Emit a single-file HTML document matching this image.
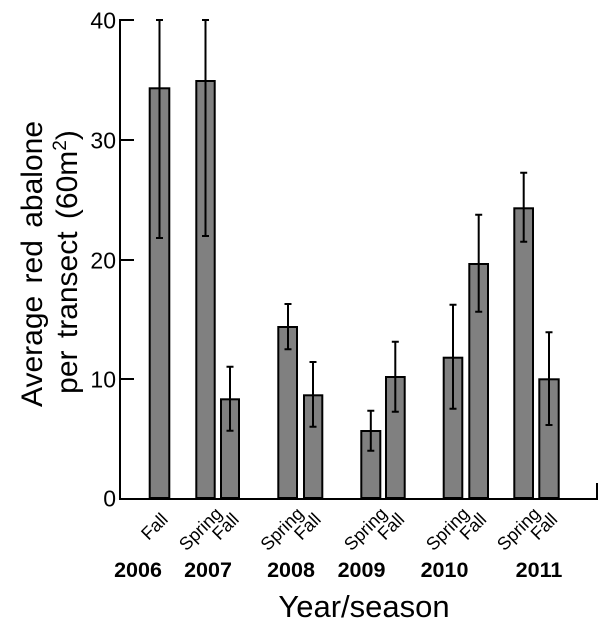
<!DOCTYPE html>
<html>
<head>
<meta charset="utf-8">
<style>
html,body{margin:0;padding:0;background:#fff;}
svg{display:block;}
text{font-family:"Liberation Sans",Arial,sans-serif;fill:#000;}
</style>
</head>
<body>
<svg width="600" height="631" viewBox="0 0 600 631" xmlns="http://www.w3.org/2000/svg">
<rect width="600" height="631" fill="#fff"/>
<!-- Bars -->
<g fill="#808080" stroke="#000" stroke-width="2">
<rect x="149.7" y="88.3" width="19.6" height="409.7"/>
<rect x="196.3" y="81" width="18.4" height="417"/>
<rect x="221" y="399.3" width="18" height="98.7"/>
<rect x="278.3" y="327" width="18.7" height="171"/>
<rect x="304" y="395.3" width="18.3" height="102.7"/>
<rect x="361.3" y="431" width="19" height="67"/>
<rect x="386" y="377" width="18.7" height="121"/>
<rect x="443.7" y="357.7" width="18.6" height="140.3"/>
<rect x="469.3" y="264" width="18.7" height="234"/>
<rect x="514.3" y="208.3" width="18.7" height="289.7"/>
<rect x="539.3" y="379.3" width="19.4" height="118.7"/>
</g>
<!-- Error bars -->
<g stroke="#000" stroke-width="2" fill="none">
<path d="M159.5 20V238M156 20H163M156 238H163"/>
<path d="M205.5 20V236M202 20H209M202 236H209"/>
<path d="M230 366.7V430.7M226.5 366.7H233.5M226.5 430.7H233.5"/>
<path d="M288 304V349.3M284.5 304H291.5M284.5 349.3H291.5"/>
<path d="M313 362V426.7M309.5 362H316.5M309.5 426.7H316.5"/>
<path d="M370.8 410.7V450.7M367.3 410.7H374.3M367.3 450.7H374.3"/>
<path d="M395.3 341.7V411.7M391.8 341.7H398.8M391.8 411.7H398.8"/>
<path d="M453 304.7V408.7M449.5 304.7H456.5M449.5 408.7H456.5"/>
<path d="M478.7 214.7V311.7M475.2 214.7H482.2M475.2 311.7H482.2"/>
<path d="M523.7 172.7V241.7M520.2 172.7H527.2M520.2 241.7H527.2"/>
<path d="M549 332.3V425M545.5 332.3H552.5M545.5 425H552.5"/>
</g>
<!-- Axes -->
<g stroke="#000" stroke-width="2" fill="none">
<path d="M120 19V499H598M597 483V499"/>
<path d="M120 20H134M120 140H134M120 260H134M120 379H134"/>
</g>
<!-- Y tick labels -->
<g font-size="23" text-anchor="end">
<text x="116" y="28.5">40</text>
<text x="116" y="148.5">30</text>
<text x="116" y="268.5">20</text>
<text x="116" y="387.5">10</text>
<text x="116" y="506.5">0</text>
</g>
<!-- Y axis title -->
<g font-size="30" text-anchor="middle" word-spacing="4">
<text transform="translate(42,264) rotate(-90)">Average red abalone</text>
<text transform="translate(77,262) rotate(-90)">per transect (60m<tspan font-size="19" dy="-11">2</tspan><tspan dy="11">)</tspan></text>
</g>
<!-- Category labels -->
<g font-size="18" text-anchor="middle" dominant-baseline="central">
<text transform="translate(154.5,526.5) rotate(-45)">Fall</text>
<text transform="translate(200.5,529) rotate(-45)">Spring</text>
<text transform="translate(225.5,526.5) rotate(-45)">Fall</text>
<text transform="translate(282,529) rotate(-45)">Spring</text>
<text transform="translate(307.5,526.5) rotate(-45)">Fall</text>
<text transform="translate(365.5,529) rotate(-45)">Spring</text>
<text transform="translate(391,526.5) rotate(-45)">Fall</text>
<text transform="translate(447.5,529) rotate(-45)">Spring</text>
<text transform="translate(473,526.5) rotate(-45)">Fall</text>
<text transform="translate(518.5,529) rotate(-45)">Spring</text>
<text transform="translate(544,526.5) rotate(-45)">Fall</text>
</g>
<!-- Years -->
<g font-size="21.5" font-weight="bold" text-anchor="middle">
<text x="138" y="577">2006</text>
<text x="208" y="577">2007</text>
<text x="291" y="577">2008</text>
<text x="361.5" y="577">2009</text>
<text x="444.5" y="577">2010</text>
<text x="539" y="577">2011</text>
</g>
<text x="364" y="617" font-size="31" text-anchor="middle">Year/season</text>
</svg>
</body>
</html>
